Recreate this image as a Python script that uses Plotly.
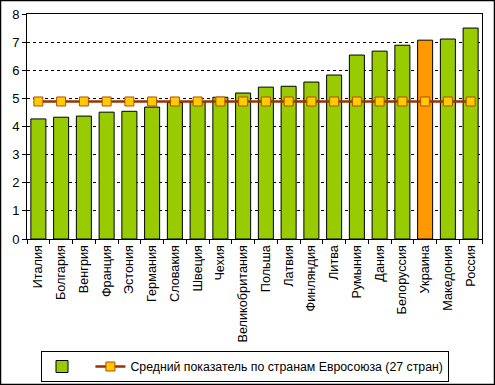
import plotly.graph_objects as go

countries = ["Италия", "Болгария", "Венгрия", "Франция", "Эстония", "Германия",
             "Словакия", "Швеция", "Чехия", "Великобритания", "Польша", "Латвия",
             "Финляндия", "Литва", "Румыния", "Дания", "Белоруссия", "Украина",
             "Македония", "Россия"]
values = [4.27, 4.33, 4.37, 4.51, 4.54, 4.69, 4.85, 4.88, 5.04, 5.19, 5.40, 5.43,
          5.58, 5.83, 6.54, 6.68, 6.89, 7.07, 7.11, 7.50]
eu_avg = [4.89] * len(countries)
highlight = "Украина"
avg_name = "Средний показатель по странам Евросоюза (27 стран)"

colors = ["#FF9900" if c == highlight else "#99CC00" for c in countries]

fig = go.Figure()
fig.add_trace(go.Bar(x=countries, y=values, name=" ",
                     marker=dict(color=colors, line=dict(color="black", width=1)),
                     showlegend=True))
fig.add_trace(go.Scatter(x=countries, y=eu_avg, name=avg_name, mode="lines+markers",
                         line=dict(color="#993300", width=2.5),
                         marker=dict(symbol="square", size=9, color="#FFCC00",
                                     line=dict(color="#B84A00", width=1))))

W, H = 495, 385
L, R, T, B = 27, 13, 14, 146
pw, ph = W - L - R, H - T - B

fig.update_layout(
    width=W, height=H,
    margin=dict(l=L, r=R, t=T, b=B, autoexpand=False),
    paper_bgcolor="white", plot_bgcolor="white",
    font=dict(family="Liberation Sans, Arial, sans-serif", size=12, color="black"),
    bargap=0.34,
    showlegend=True,
    legend=dict(orientation="h", x=(245 - L) / pw, xanchor="center",
                y=(T + ph - 351) / ph, yanchor="top", bordercolor="black",
                borderwidth=1, font=dict(size=12.3), bgcolor="white"),
    xaxis=dict(type="category", range=[-0.5, len(countries) - 0.5],
               tickangle=-90, showgrid=False, showline=True,
               linecolor="black", linewidth=1, ticks="outside", tickson="boundaries",
               ticklen=4, tickcolor="black", mirror=True, tickfont=dict(size=12.7),
               automargin=False),
    yaxis=dict(range=[0, 8], dtick=1, showgrid=True, gridcolor="black",
               griddash="3px,3px", gridwidth=1, showline=True, linecolor="black",
               linewidth=1, ticks="outside", ticklen=4, tickcolor="black",
               mirror=True, zeroline=False, tickfont=dict(size=13),
               automargin=False),
    shapes=[dict(type="rect", xref="paper", yref="paper",
                 x0=(0.5 - L) / pw, x1=(W - 0.5 - L) / pw,
                 y0=-(B - 0.5) / ph, y1=1 + (T - 0.5) / ph,
                 line=dict(color="black", width=1.5), layer="below")],
)

fig.write_html("out.html", config={"displayModeBar": False},
               post_script="document.body.style.margin='0';document.body.style.overflow='hidden';")
